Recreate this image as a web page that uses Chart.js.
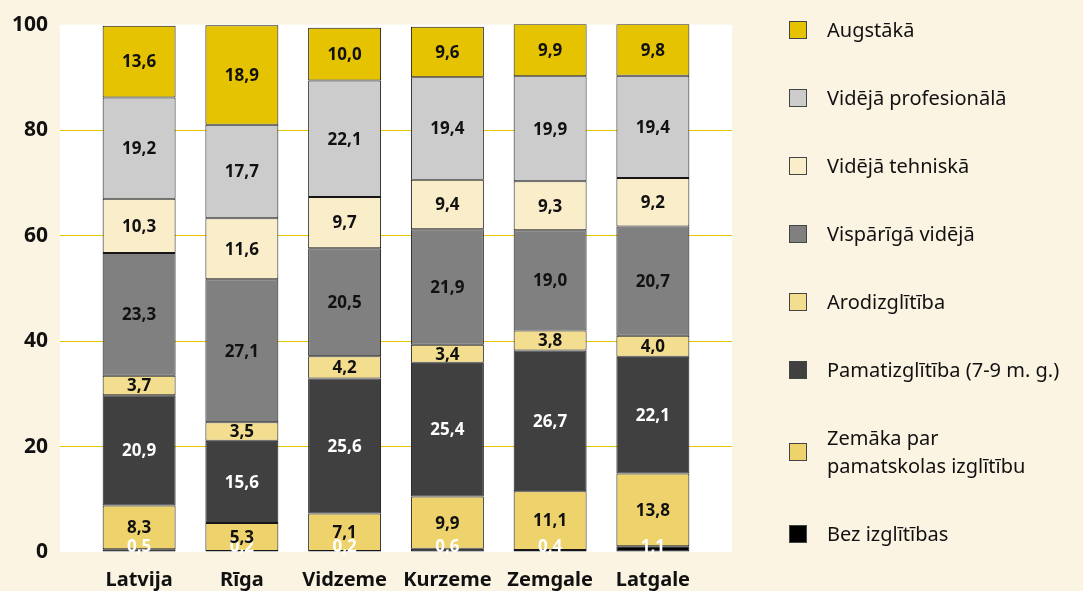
<!DOCTYPE html>
<html>
<head>
<meta charset="utf-8">
<script src="https://cdn.jsdelivr.net/npm/chart.js@4/dist/chart.umd.min.js"></script>
<style>
  body { margin: 0; background: #fcf4e3; overflow: hidden; }
  #wrap { position: relative; width: 1083px; height: 591px; }
  #legend { position: absolute; left: 789px; top: 16px; font-family: "Noto Sans"; font-size: 20px; color: #111; }
  .item { display: flex; align-items: center; line-height: 28px; margin-bottom: 40px; }
  .item.two { margin-top: 4px; }
  .box { width: 16px; height: 16px; border: 1px solid #444; margin-right: 20px; flex: none; }
</style>
</head>
<body>
<div id="wrap">
  <canvas id="chart"></canvas>
  <div id="legend"></div>
</div>
<script>
// regions and the education levels (bottom of the stack first)
var categories = ["Latvija", "Rīga", "Vidzeme", "Kurzeme", "Zemgale", "Latgale"];
var seriesNames = [
    "Bez izglītības",
    "Zemāka par\npamatskolas izglītību",
    "Pamatizglītība (7-9 m. g.)",
    "Arodizglītība",
    "Vispārīgā vidējā",
    "Vidējā tehniskā",
    "Vidējā profesionālā",
    "Augstākā"
];
var bez = [0.5, 0.2, 0.2, 0.6, 0.4, 1.1];
var zemaka = [8.3, 5.3, 7.1, 9.9, 11.1, 13.8];
var pamat = [20.9, 15.6, 25.6, 25.4, 26.7, 22.1];
var arod = [3.7, 3.5, 4.2, 3.4, 3.8, 4.0];
var vispariga = [23.3, 27.1, 20.5, 21.9, 19.0, 20.7];
var tehniska = [10.3, 11.6, 9.7, 9.4, 9.3, 9.2];
var profesionala = [19.2, 17.7, 22.1, 19.4, 19.9, 19.4];
var augstaka = [13.6, 18.9, 10.0, 9.6, 9.9, 9.8];
var yTicks = [0, 20, 40, 60, 80, 100];

var seriesValues = [bez, zemaka, pamat, arod, vispariga, tehniska, profesionala, augstaka];
var colors = ["#000000", "#eed26c", "#404040", "#f3dd8e", "#808080", "#faedc9", "#cccccc", "#e5c300"];
var labelColors = ["#ffffff", "#111111", "#ffffff", "#111111", "#111111", "#111111", "#111111", "#111111"];

var datasets = seriesValues.map(function(vals, k) {
    return {
        label: seriesNames[k],
        data: vals.map(function(v, i) { return {x: i, y: v}; }),
        backgroundColor: colors[k],
        borderColor: "#161616",
        borderWidth: 1,
        borderSkipped: false,
        barPercentage: 0.71,
        categoryPercentage: 1,
        labelColor: labelColors[k],
        labelAtBase: k === 0
    };
});

var plotBg = {
    id: "plotBg",
    beforeDraw: function(chart) {
        var a = chart.chartArea, ctx = chart.ctx;
        ctx.save();
        ctx.fillStyle = "#ffffff";
        ctx.fillRect(a.left, a.top, a.right - a.left, a.bottom - a.top);
        ctx.restore();
    }
};

var barLabels = {
    id: "barLabels",
    afterDatasetsDraw: function(chart) {
        var ctx = chart.ctx;
        ctx.save();
        ctx.font = "bold 17px 'Noto Sans'";
        ctx.textAlign = "center";
        chart.data.datasets.forEach(function(ds, di) {
            var meta = chart.getDatasetMeta(di);
            meta.data.forEach(function(bar, i) {
                var txt = ds.data[i].y.toFixed(1).replace(".", ",");
                ctx.fillStyle = ds.labelColor;
                if (ds.labelAtBase) {
                    ctx.textBaseline = "alphabetic";
                    ctx.fillText(txt, bar.x, bar.base);
                } else {
                    ctx.textBaseline = "middle";
                    ctx.fillText(txt, bar.x, (bar.y + bar.base) / 2 + 1);
                }
            });
        });
        ctx.restore();
    }
};

var ctx = document.getElementById("chart");
var chart = new Chart(ctx, {
    type: "bar",
    data: { datasets: datasets },
    plugins: [plotBg, barLabels],
    options: {
        responsive: true,
        maintainAspectRatio: false,
        animation: false,
        layout: { padding: { top: 22, right: 351, left: 0, bottom: 0 } },
        plugins: { legend: { display: false }, tooltip: { enabled: false } },
        scales: {
            x: {
                type: "linear",
                stacked: true,
                offset: false,
                min: -0.77,
                max: 5.77,
                grid: { display: false, offset: false },
                border: { display: false },
                afterBuildTicks: function(axis) {
                    axis.ticks = categories.map(function(c, i) { return {value: i}; });
                },
                afterFit: function(axis) { axis.height = 39; },
                ticks: {
                    autoSkip: false,
                    maxRotation: 0,
                    padding: 8,
                    color: "#111",
                    font: { family: "Noto Sans", size: 20, weight: "bold" },
                    callback: function(v) { return categories[v]; }
                }
            },
            y: {
                stacked: true,
                min: 0,
                max: 100,
                border: { display: false },
                afterBuildTicks: function(axis) {
                    axis.ticks = yTicks.map(function(v) { return {value: v}; });
                },
                afterFit: function(axis) { axis.width = 60; },
                grid: {
                    drawTicks: false,
                    color: function(c) {
                        return (c.tick.value === 0 || c.tick.value === 100) ? "rgba(0,0,0,0)" : "#e6c300";
                    }
                },
                ticks: {
                    padding: 12,
                    color: "#111",
                    font: { family: "Noto Sans", size: 21, weight: "bold" }
                }
            }
        }
    }
});

// legend, top item is the top of the stack
var legend = document.getElementById("legend");
for (var k = seriesNames.length - 1; k >= 0; k--) {
    var item = document.createElement("div");
    var lines = seriesNames[k].split("\n");
    item.className = lines.length > 1 ? "item two" : "item";
    var box = document.createElement("span");
    box.className = "box";
    box.style.background = colors[k];
    var txt = document.createElement("span");
    txt.innerHTML = lines.join("<br>");
    item.appendChild(box);
    item.appendChild(txt);
    legend.appendChild(item);
}
</script>
</body>
</html>
